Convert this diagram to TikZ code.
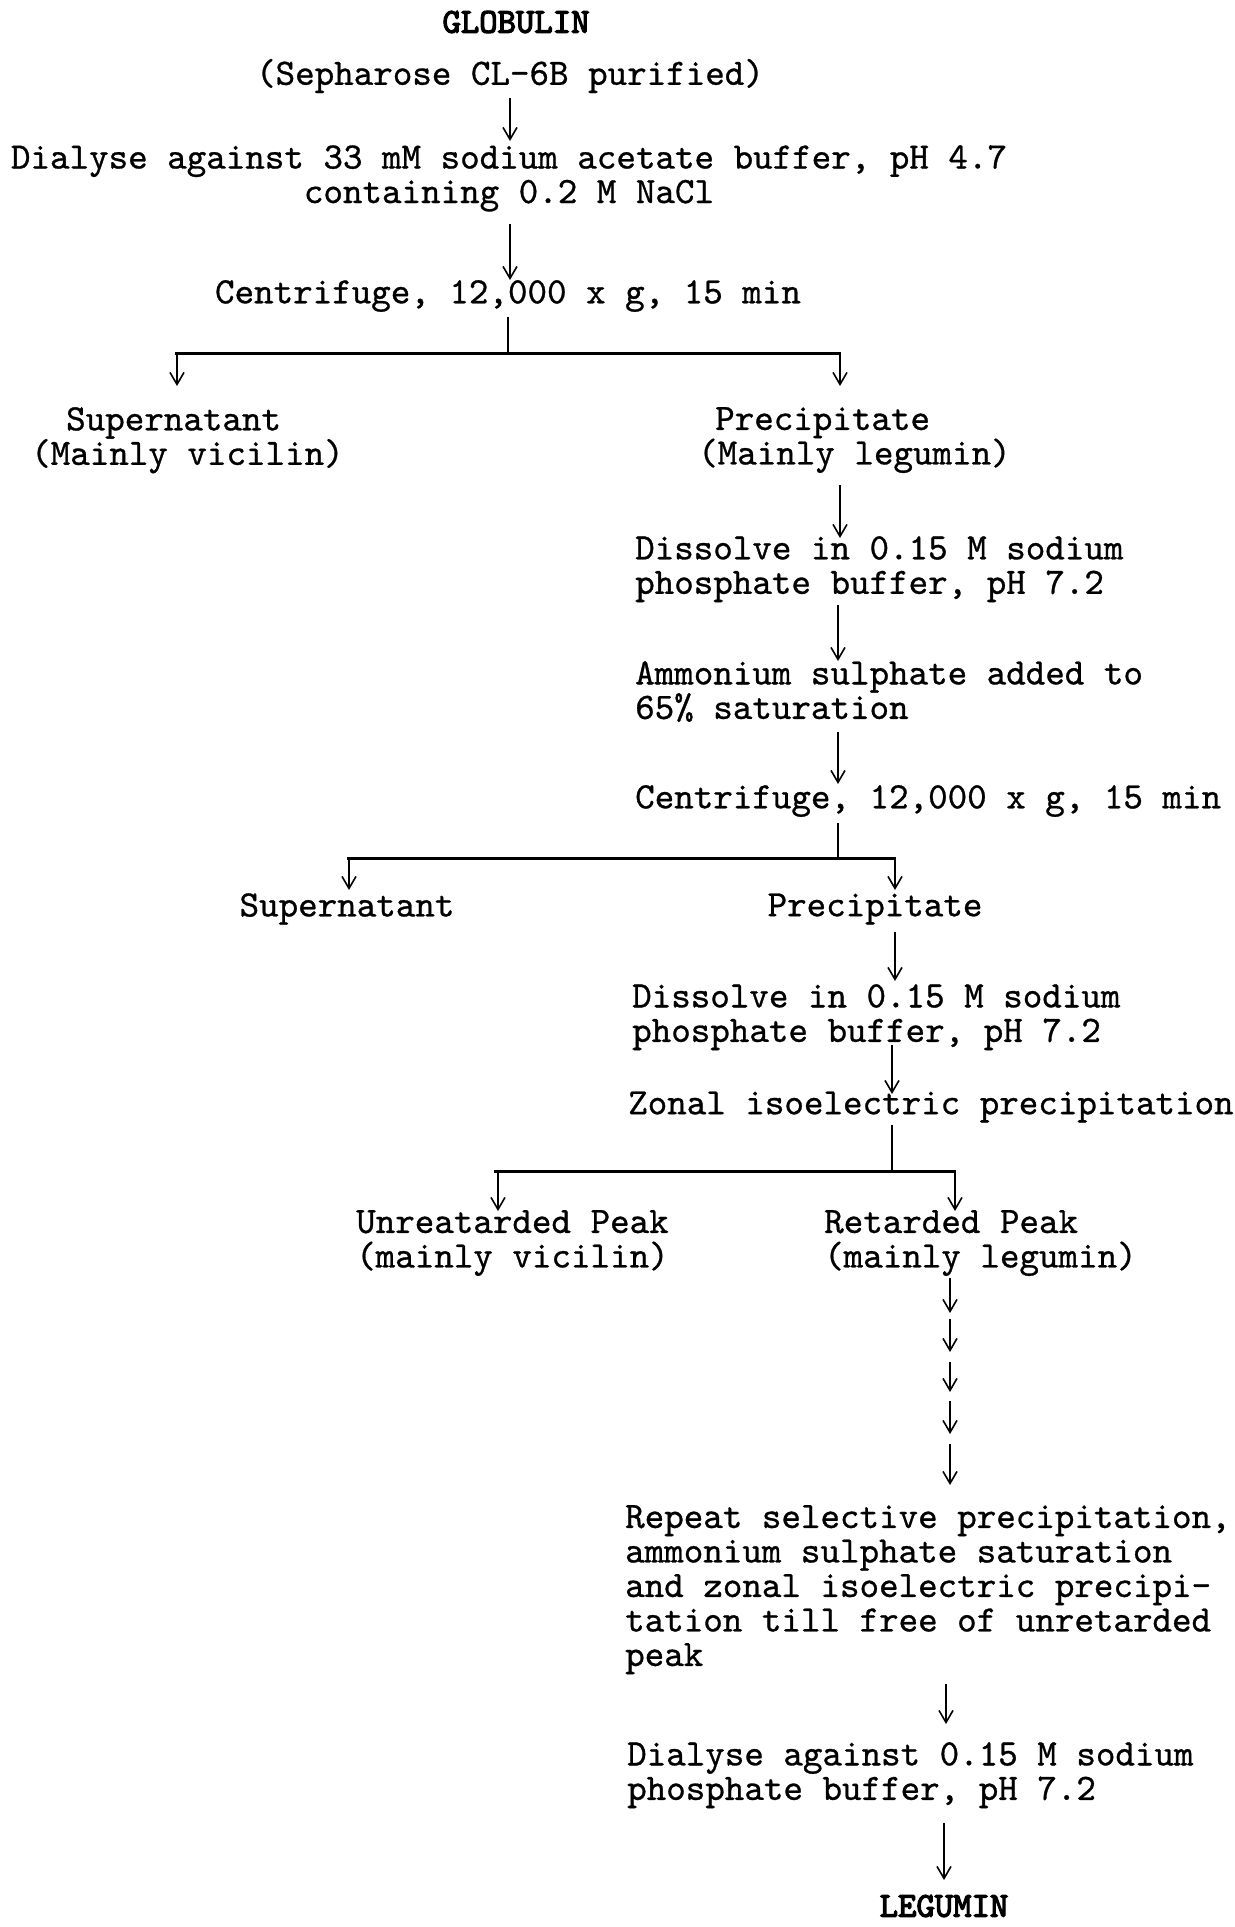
\documentclass[tikz,border=0pt]{standalone}
\usepackage{fontspec}
\setmainfont{Liberation Mono}
\newfontfamily\twbody{lmmono10-regular}[Extension=.otf, FakeBold=0.8]
\newfontfamily\twbold{lmmono10-regular}[Extension=.otf, FakeBold=3.5]
\usetikzlibrary{arrows.meta}
\begin{document}
\begin{tikzpicture}[x=1pt,y=-1pt,
  txt/.style={inner sep=0pt, font=\twbody\fontsize{37.2}{34.5}\selectfont},
  lft/.style={txt, align=left, anchor=north west},
  ttl/.style={inner sep=0pt, font=\twbold\fontsize{35}{34.5}\selectfont},
  arr/.style={line width=1.6pt, -{Straight Barb[length=12pt,width=14pt,line width=1.6pt]}},
  bar/.style={line width=3pt},
  stem/.style={line width=1.6pt}]
\useasboundingbox[fill=white] (0,0) rectangle (1234,1927);

% texts
\node[ttl] (glob) at (516,22) {GLOBULIN};
\node[txt] (seph) at (510,76) {(Sepharose CL-6B purified)};
\node[txt, align=center, anchor=north] (dia1) at (509,145) {Dialyse against 33 mM sodium acetate buffer, pH 4.7\\containing 0.2 M NaCl};
\node[txt] (cen1) at (508,296) {Centrifuge, 12,000 x g, 15 min};
\node[lft] (sup1) at (31,407) {\hspace*{35pt}Supernatant\\(Mainly vicilin)};
\node[lft] (pre1) at (698,407) {\hspace*{17pt}Precipitate\\(Mainly legumin)};
\node[lft] (dis1) at (635,536) {Dissolve in 0.15 M sodium\\phosphate buffer, pH 7.2};
\node[lft] (amm) at (635,661) {Ammonium sulphate added to\\65\% saturation};
\node[txt, anchor=west] (cen2) at (635,801) {Centrifuge, 12,000 x g, 15 min};
\node[txt] (sup2) at (347,909) {Supernatant};
\node[txt] (pre2) at (875,909) {Precipitate};
\node[lft] (dis2) at (632,984) {Dissolve in 0.15 M sodium\\phosphate buffer, pH 7.2};
\node[txt, anchor=west] (zon) at (628,1107) {Zonal isoelectric precipitation};
\node[lft] (unr) at (356,1210) {Unreatarded Peak\\(mainly vicilin)};
\node[lft] (ret) at (824,1210) {Retarded Peak\\(mainly legumin)};
\node[lft] (rep) at (625,1505) {Repeat selective precipitation,\\ammonium sulphate saturation\\and zonal isoelectric precipi-\\tation till free of unretarded\\peak};
\node[lft] (dia2) at (627,1742) {Dialyse against 0.15 M sodium\\phosphate buffer, pH 7.2};
\node[ttl] (leg) at (944,1906) {LEGUMIN};

% connector points
\coordinate (a1s) at (510,98);   \coordinate (a1e) at (510,141);
\coordinate (a2s) at (510,224);  \coordinate (a2e) at (510,280);
\coordinate (v1s) at (508,317);  \coordinate (v1e) at (508,353);
\coordinate (h1l) at (175,353);  \coordinate (h1r) at (841,353);
\coordinate (a3e) at (177,386);  \coordinate (a4e) at (840,386);
\coordinate (a5s) at (840,485);  \coordinate (a5e) at (840,538);
\coordinate (a6s) at (838,605);  \coordinate (a6e) at (838,661);
\coordinate (a7s) at (838,732);  \coordinate (a7e) at (838,784);
\coordinate (v2s) at (838,823);  \coordinate (v2e) at (838,858);
\coordinate (h2l) at (347,858);  \coordinate (h2r) at (896,858);
\coordinate (a8e) at (349,890);  \coordinate (a9e) at (895,890);
\coordinate (a10s) at (895,932); \coordinate (a10e) at (895,981);
\coordinate (a11s) at (892,1045);\coordinate (a11e) at (892,1094);
\coordinate (v3s) at (892,1125); \coordinate (v3e) at (892,1171);
\coordinate (h3l) at (494,1171); \coordinate (h3r) at (956,1171);
\coordinate (a12e) at (498,1211);\coordinate (a13e) at (955,1211);
\coordinate (c1s) at (950,1278); \coordinate (c1e) at (950,1313);
\coordinate (c2s) at (950,1319); \coordinate (c2e) at (950,1352);
\coordinate (c3s) at (950,1362); \coordinate (c3e) at (950,1392);
\coordinate (c4s) at (950,1401); \coordinate (c4e) at (950,1434);
\coordinate (c5s) at (950,1444); \coordinate (c5e) at (950,1485);
\coordinate (a14s) at (946,1684);\coordinate (a14e) at (946,1724);
\coordinate (a15s) at (944,1823);\coordinate (a15e) at (944,1880);

% connectors
\draw[arr] (a1s) -- (a1e);
\draw[arr] (a2s) -- (a2e);
\draw[stem] (v1s) -- (v1e);
\draw[bar] (h1l) -- (h1r);
\draw[arr] (h1l -| a3e) -- (a3e);
\draw[arr] (h1r -| a4e) -- (a4e);
\draw[arr] (a5s) -- (a5e);
\draw[arr] (a6s) -- (a6e);
\draw[arr] (a7s) -- (a7e);
\draw[stem] (v2s) -- (v2e);
\draw[bar] (h2l) -- (h2r);
\draw[arr] (h2l -| a8e) -- (a8e);
\draw[arr] (h2r -| a9e) -- (a9e);
\draw[arr] (a10s) -- (a10e);
\draw[arr] (a11s) -- (a11e);
\draw[stem] (v3s) -- (v3e);
\draw[bar] (h3l) -- (h3r);
\draw[arr] (h3l -| a12e) -- (a12e);
\draw[arr] (h3r -| a13e) -- (a13e);
\draw[arr] (c1s) -- (c1e);
\draw[arr] (c2s) -- (c2e);
\draw[arr] (c3s) -- (c3e);
\draw[arr] (c4s) -- (c4e);
\draw[arr] (c5s) -- (c5e);
\draw[arr] (a14s) -- (a14e);
\draw[arr] (a15s) -- (a15e);
\end{tikzpicture}
\end{document}
